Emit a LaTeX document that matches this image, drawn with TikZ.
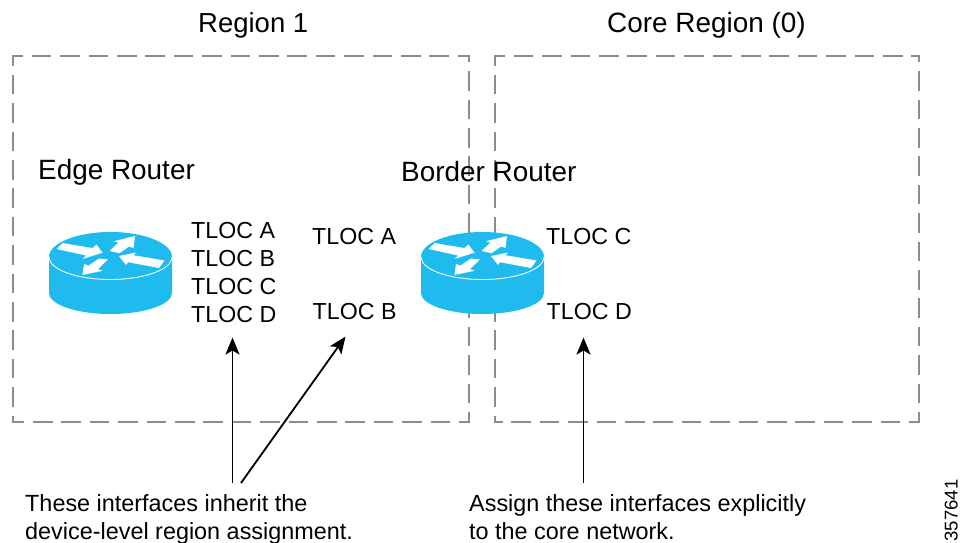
\documentclass[tikz,border=0pt]{standalone}
\usepackage{fontspec}
\setmainfont{Liberation Sans}
\usetikzlibrary{arrows.meta}
\definecolor{routerblue}{HTML}{1FBBEE}
\definecolor{dashgray}{HTML}{8C8C8C}
\tikzset{
  regionbox/.style={minimum height=366pt,anchor=north west,inner sep=0pt,outer sep=0pt},
  dashside/.style={draw=dashgray,line width=2.2pt,line cap=rect,dash pattern=on 17.4pt off 11pt,dash phase=8.5pt},
  title/.style={font=\fontsize{27.9}{30}\selectfont,inner sep=0pt,anchor=base west},
  tloc/.style={font=\fontsize{23.2}{26}\selectfont,inner sep=0pt,anchor=base west},
  note/.style={font=\fontsize{23.4}{26}\selectfont,inner sep=0pt,anchor=base west},
  pointer/.style={draw=black,line width=1.8pt,-{Stealth[length=17pt,width=14pt,inset=4pt]}},
  routerarrow/.style={fill=white,draw=none}
}
\newcommand{\routericon}[2]{%
  \begin{scope}[shift={(#1,#2)}]
    \path[fill=routerblue] (-61.5,0) -- (-61.5,36) arc[start angle=180,end angle=360,x radius=61.5,y radius=-21] -- (61.5,0) arc[start angle=0,end angle=180,x radius=61.5,y radius=-25] -- cycle;
    \draw[white,line width=0.9pt] (-61.5,0) arc[start angle=180,end angle=360,x radius=61.5,y radius=-22.5];
    \path[routerarrow] (-54,-8) -- (-48,-14) -- (-18,-9) -- (-14,-12.5) -- (-8,-4.3) -- (-28,2) -- (-24.5,-1.5) -- cycle;
    \path[routerarrow] (-1,-6) -- (8,-14.5) -- (3.5,-15.8) -- (24.5,-21) -- (23,-9) -- (18.5,-10.5) -- (9,-3.8) -- cycle;
    \path[routerarrow] (8.5,-1) -- (25.5,-4.5) -- (23,-1.8) -- (54,3.5) -- (48.5,11) -- (17.5,5.2) -- (15.5,8) -- cycle;
    \path[routerarrow] (-28,18) -- (-26.5,7) -- (-22,8.6) -- (-11.5,1.5) -- (-2.5,2.5) -- (-12.5,12) -- (-8,13.8) -- cycle;
  \end{scope}}
\begin{document}
\begin{tikzpicture}[x=1pt,y=-1pt]
\useasboundingbox (0,0) rectangle (961,543);
\node[regionbox,minimum width=456pt] (region1) at (13,56) {};
\node[regionbox,minimum width=424pt] (core) at (495,56) {};
\foreach \b in {region1,core} {
  \draw[dashside] (\b.north west) -- (\b.north east);
  \draw[dashside] (\b.north west) -- (\b.south west);
  \draw[dashside] (\b.south east) -- (\b.north east);
  \draw[dashside] (\b.south east) -- (\b.south west);
}
\routericon{110.5}{257}
\routericon{482.5}{257}
\node[title,font=\fontsize{27.5}{30}\selectfont] (regionlabel) at (198,33) {Region 1};
\node[title] (corelabel) at (607,33) {Core Region (0)};
\node[title] (edge) at (38,179) {Edge Router};
\node[title] (border) at (401,181) {Border Router};
\node[tloc] (ea) at (191,238) {TLOC A};
\node[tloc] (eb) at (191,266) {TLOC B};
\node[tloc] (ec) at (191,294) {TLOC C};
\node[tloc] (ed) at (191,322.5) {TLOC D};
\node[tloc] (ba) at (312,244) {TLOC A};
\node[tloc] (bb) at (312.5,319.5) {TLOC B};
\node[tloc] (bc) at (546,244) {TLOC C};
\node[tloc] (bd) at (546.5,319.5) {TLOC D};
\node[note] (n1a) at (25,511) {These interfaces inherit the};
\node[note] (n1b) at (25,539) {device-level region assignment.};
\node[note] (n2a) at (469,511) {Assign these interfaces explicitly};
\node[note] (n2b) at (469,539) {to the core network.};
\node[font=\fontsize{18.5}{20}\selectfont,inner sep=0pt,rotate=90,anchor=base west] (id) at (957.5,541.5) {357641};
\coordinate (s1) at (232.5,483);
\coordinate (s2) at (241,483);
\coordinate (s3) at (583.5,483);
\coordinate (e1) at (232.5,337.5);
\coordinate (e2) at (345.5,336.5);
\coordinate (e3) at (583.5,337.5);
\draw[pointer] (s1) -- (e1);
\draw[pointer] (s2) -- (e2);
\draw[pointer] (s3) -- (e3);
\end{tikzpicture}
\end{document}
